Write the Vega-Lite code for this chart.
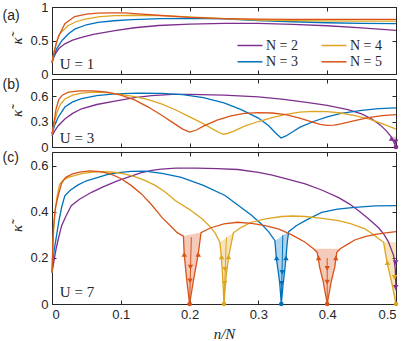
{
"$schema": "https://vega.github.io/schema/vega-lite/v6.json",
"padding": {"left": 1, "top": 0, "right": 0, "bottom": 0},
"bounds": "flush",
"spacing": 5,
"resolve": {"scale": {"color": "independent"}},
"config": {
  "view": {"stroke": "#262626", "strokeWidth": 1},
  "axis": {"grid": false, "domain": false, "tickColor": "#262626", "tickSize": -4, "tickWidth": 1, "labelFont": "Liberation Sans", "labelFontSize": 13, "labelColor": "#262626", "labelPadding": 8, "titleFont": "Liberation Serif", "titleFontSize": 15, "titleFontStyle": "italic", "titleFontWeight": "normal", "titleColor": "#262626"},
  "text": {"color": "#262626"},
  "range": {"category": ["#7E2F8E", "#0072BD", "#DDA520", "#D95319"]}
},
"datasets": {
  "a": [
    {"N":"N = 2","x":0,"y":0.17},{"N":"N = 2","x":0.003,"y":0.26},{"N":"N = 2","x":0.006,"y":0.32},{"N":"N = 2","x":0.01,"y":0.38},{"N":"N = 2","x":0.0187,"y":0.45},{"N":"N = 2","x":0.03,"y":0.505},{"N":"N = 2","x":0.043,"y":0.545},{"N":"N = 2","x":0.06,"y":0.59},{"N":"N = 2","x":0.0915,"y":0.648},{"N":"N = 2","x":0.12,"y":0.69},{"N":"N = 2","x":0.155,"y":0.724},{"N":"N = 2","x":0.2,"y":0.745},{"N":"N = 2","x":0.25,"y":0.755},{"N":"N = 2","x":0.3,"y":0.755},{"N":"N = 2","x":0.35,"y":0.742},{"N":"N = 2","x":0.4,"y":0.72},{"N":"N = 2","x":0.45,"y":0.688},{"N":"N = 2","x":0.5,"y":0.652},
    {"N":"N = 3","x":0,"y":0.17},{"N":"N = 3","x":0.003,"y":0.28},{"N":"N = 3","x":0.007,"y":0.38},{"N":"N = 3","x":0.0146,"y":0.5},{"N":"N = 3","x":0.024,"y":0.6},{"N":"N = 3","x":0.033,"y":0.67},{"N":"N = 3","x":0.05,"y":0.735},{"N":"N = 3","x":0.067,"y":0.77},{"N":"N = 3","x":0.09,"y":0.795},{"N":"N = 3","x":0.116,"y":0.812},{"N":"N = 3","x":0.159,"y":0.825},{"N":"N = 3","x":0.2,"y":0.83},{"N":"N = 3","x":0.25,"y":0.822},{"N":"N = 3","x":0.3,"y":0.798},{"N":"N = 3","x":0.35,"y":0.78},{"N":"N = 3","x":0.4,"y":0.765},{"N":"N = 3","x":0.45,"y":0.756},{"N":"N = 3","x":0.5,"y":0.752},
    {"N":"N = 4","x":0,"y":0.17},{"N":"N = 4","x":0.003,"y":0.33},{"N":"N = 4","x":0.006,"y":0.45},{"N":"N = 4","x":0.011,"y":0.6},{"N":"N = 4","x":0.0236,"y":0.724},{"N":"N = 4","x":0.035,"y":0.78},{"N":"N = 4","x":0.048,"y":0.82},{"N":"N = 4","x":0.07,"y":0.855},{"N":"N = 4","x":0.0915,"y":0.872},{"N":"N = 4","x":0.12,"y":0.877},{"N":"N = 4","x":0.159,"y":0.872},{"N":"N = 4","x":0.2,"y":0.852},{"N":"N = 4","x":0.25,"y":0.826},{"N":"N = 4","x":0.3,"y":0.806},{"N":"N = 4","x":0.35,"y":0.796},{"N":"N = 4","x":0.4,"y":0.792},{"N":"N = 4","x":0.45,"y":0.79},{"N":"N = 4","x":0.5,"y":0.79},
    {"N":"N = 5","x":0,"y":0.17},{"N":"N = 5","x":0.003,"y":0.32},{"N":"N = 5","x":0.006,"y":0.45},{"N":"N = 5","x":0.009,"y":0.55},{"N":"N = 5","x":0.0187,"y":0.75},{"N":"N = 5","x":0.033,"y":0.858},{"N":"N = 5","x":0.05,"y":0.895},{"N":"N = 5","x":0.067,"y":0.908},{"N":"N = 5","x":0.085,"y":0.913},{"N":"N = 5","x":0.106,"y":0.912},{"N":"N = 5","x":0.13,"y":0.895},{"N":"N = 5","x":0.159,"y":0.873},{"N":"N = 5","x":0.2,"y":0.845},{"N":"N = 5","x":0.25,"y":0.826},{"N":"N = 5","x":0.3,"y":0.818},{"N":"N = 5","x":0.35,"y":0.815},{"N":"N = 5","x":0.4,"y":0.815},{"N":"N = 5","x":0.45,"y":0.815},{"N":"N = 5","x":0.5,"y":0.815}
  ],
  "b": [
    {"N":"N = 2","x":0,"y":0.13},{"N":"N = 2","x":0.004,"y":0.19},{"N":"N = 2","x":0.009,"y":0.25},{"N":"N = 2","x":0.0187,"y":0.33},{"N":"N = 2","x":0.03,"y":0.395},{"N":"N = 2","x":0.043,"y":0.45},{"N":"N = 2","x":0.065,"y":0.5},{"N":"N = 2","x":0.0915,"y":0.54},{"N":"N = 2","x":0.12,"y":0.58},{"N":"N = 2","x":0.145,"y":0.605},{"N":"N = 2","x":0.175,"y":0.618},{"N":"N = 2","x":0.2,"y":0.62},{"N":"N = 2","x":0.25,"y":0.61},{"N":"N = 2","x":0.3,"y":0.59},{"N":"N = 2","x":0.337,"y":0.56},{"N":"N = 2","x":0.37,"y":0.525},{"N":"N = 2","x":0.4,"y":0.49},{"N":"N = 2","x":0.43,"y":0.44},{"N":"N = 2","x":0.45,"y":0.39},{"N":"N = 2","x":0.465,"y":0.33},{"N":"N = 2","x":0.477,"y":0.26},{"N":"N = 2","x":0.486,"y":0.19},{"N":"N = 2","x":0.493,"y":0.12},{"N":"N = 2","x":0.5,"y":0},
    {"N":"N = 3","x":0,"y":0.15},{"N":"N = 3","x":0.004,"y":0.26},{"N":"N = 3","x":0.009,"y":0.35},{"N":"N = 3","x":0.0187,"y":0.47},{"N":"N = 3","x":0.03,"y":0.53},{"N":"N = 3","x":0.043,"y":0.57},{"N":"N = 3","x":0.065,"y":0.605},{"N":"N = 3","x":0.0915,"y":0.625},{"N":"N = 3","x":0.125,"y":0.633},{"N":"N = 3","x":0.159,"y":0.632},{"N":"N = 3","x":0.19,"y":0.615},{"N":"N = 3","x":0.22,"y":0.58},{"N":"N = 3","x":0.25,"y":0.52},{"N":"N = 3","x":0.275,"y":0.44},{"N":"N = 3","x":0.3,"y":0.34},{"N":"N = 3","x":0.315,"y":0.25},{"N":"N = 3","x":0.325,"y":0.165},{"N":"N = 3","x":0.333,"y":0.105},{"N":"N = 3","x":0.34,"y":0.13},{"N":"N = 3","x":0.35,"y":0.18},{"N":"N = 3","x":0.36,"y":0.23},{"N":"N = 3","x":0.38,"y":0.3},{"N":"N = 3","x":0.4,"y":0.355},{"N":"N = 3","x":0.42,"y":0.395},{"N":"N = 3","x":0.45,"y":0.432},{"N":"N = 3","x":0.475,"y":0.452},{"N":"N = 3","x":0.5,"y":0.46},
    {"N":"N = 4","x":0,"y":0.15},{"N":"N = 4","x":0.003,"y":0.27},{"N":"N = 4","x":0.007,"y":0.4},{"N":"N = 4","x":0.012,"y":0.5},{"N":"N = 4","x":0.0187,"y":0.565},{"N":"N = 4","x":0.03,"y":0.61},{"N":"N = 4","x":0.043,"y":0.635},{"N":"N = 4","x":0.06,"y":0.645},{"N":"N = 4","x":0.08,"y":0.64},{"N":"N = 4","x":0.1,"y":0.62},{"N":"N = 4","x":0.12,"y":0.593},{"N":"N = 4","x":0.14,"y":0.558},{"N":"N = 4","x":0.16,"y":0.505},{"N":"N = 4","x":0.18,"y":0.435},{"N":"N = 4","x":0.2,"y":0.355},{"N":"N = 4","x":0.22,"y":0.275},{"N":"N = 4","x":0.235,"y":0.205},{"N":"N = 4","x":0.245,"y":0.162},{"N":"N = 4","x":0.25,"y":0.15},{"N":"N = 4","x":0.256,"y":0.16},{"N":"N = 4","x":0.265,"y":0.19},{"N":"N = 4","x":0.28,"y":0.245},{"N":"N = 4","x":0.3,"y":0.3},{"N":"N = 4","x":0.32,"y":0.345},{"N":"N = 4","x":0.34,"y":0.385},{"N":"N = 4","x":0.36,"y":0.41},{"N":"N = 4","x":0.38,"y":0.42},{"N":"N = 4","x":0.4,"y":0.415},{"N":"N = 4","x":0.42,"y":0.4},{"N":"N = 4","x":0.44,"y":0.37},{"N":"N = 4","x":0.46,"y":0.33},{"N":"N = 4","x":0.48,"y":0.275},{"N":"N = 4","x":0.5,"y":0.21},
    {"N":"N = 5","x":0,"y":0.15},{"N":"N = 5","x":0.003,"y":0.3},{"N":"N = 5","x":0.006,"y":0.45},{"N":"N = 5","x":0.01,"y":0.56},{"N":"N = 5","x":0.015,"y":0.61},{"N":"N = 5","x":0.024,"y":0.645},{"N":"N = 5","x":0.04,"y":0.66},{"N":"N = 5","x":0.06,"y":0.66},{"N":"N = 5","x":0.08,"y":0.645},{"N":"N = 5","x":0.1,"y":0.61},{"N":"N = 5","x":0.12,"y":0.555},{"N":"N = 5","x":0.14,"y":0.47},{"N":"N = 5","x":0.16,"y":0.37},{"N":"N = 5","x":0.175,"y":0.29},{"N":"N = 5","x":0.19,"y":0.21},{"N":"N = 5","x":0.2,"y":0.175},{"N":"N = 5","x":0.21,"y":0.2},{"N":"N = 5","x":0.22,"y":0.245},{"N":"N = 5","x":0.24,"y":0.315},{"N":"N = 5","x":0.26,"y":0.365},{"N":"N = 5","x":0.28,"y":0.395},{"N":"N = 5","x":0.3,"y":0.405},{"N":"N = 5","x":0.32,"y":0.4},{"N":"N = 5","x":0.34,"y":0.38},{"N":"N = 5","x":0.36,"y":0.34},{"N":"N = 5","x":0.38,"y":0.29},{"N":"N = 5","x":0.39,"y":0.265},{"N":"N = 5","x":0.4,"y":0.255},{"N":"N = 5","x":0.41,"y":0.258},{"N":"N = 5","x":0.42,"y":0.272},{"N":"N = 5","x":0.44,"y":0.31},{"N":"N = 5","x":0.46,"y":0.345},{"N":"N = 5","x":0.48,"y":0.37},{"N":"N = 5","x":0.5,"y":0.38}
  ],
  "c": [
    {"N":"N = 2","x":0,"y":0.137},{"N":"N = 2","x":0.003,"y":0.19},{"N":"N = 2","x":0.006,"y":0.24},{"N":"N = 2","x":0.009,"y":0.28},{"N":"N = 2","x":0.014,"y":0.34},{"N":"N = 2","x":0.02,"y":0.38},{"N":"N = 2","x":0.028,"y":0.427},{"N":"N = 2","x":0.04,"y":0.455},{"N":"N = 2","x":0.0575,"y":0.485},{"N":"N = 2","x":0.075,"y":0.51},{"N":"N = 2","x":0.096,"y":0.536},{"N":"N = 2","x":0.115,"y":0.555},{"N":"N = 2","x":0.13,"y":0.57},{"N":"N = 2","x":0.145,"y":0.58},{"N":"N = 2","x":0.159,"y":0.586},{"N":"N = 2","x":0.18,"y":0.59},{"N":"N = 2","x":0.21,"y":0.59},{"N":"N = 2","x":0.24,"y":0.588},{"N":"N = 2","x":0.27,"y":0.584},{"N":"N = 2","x":0.3,"y":0.572},{"N":"N = 2","x":0.32,"y":0.56},{"N":"N = 2","x":0.345,"y":0.54},{"N":"N = 2","x":0.368,"y":0.522},{"N":"N = 2","x":0.392,"y":0.495},{"N":"N = 2","x":0.4166,"y":0.462},{"N":"N = 2","x":0.432,"y":0.435},{"N":"N = 2","x":0.4457,"y":0.405},{"N":"N = 2","x":0.46,"y":0.37},{"N":"N = 2","x":0.475,"y":0.33},{"N":"N = 2","x":0.483,"y":0.3},{"N":"N = 2","x":0.489,"y":0.27},{"N":"N = 2","x":0.4966,"y":0.21},{"N":"N = 2","x":0.499,"y":0.15},{"N":"N = 2","x":0.5,"y":0.06},
    {"N":"N = 3","x":0,"y":0.137},{"N":"N = 3","x":0.003,"y":0.23},{"N":"N = 3","x":0.0066,"y":0.297},{"N":"N = 3","x":0.01,"y":0.36},{"N":"N = 3","x":0.014,"y":0.42},{"N":"N = 3","x":0.0186,"y":0.47},{"N":"N = 3","x":0.027,"y":0.495},{"N":"N = 3","x":0.038,"y":0.517},{"N":"N = 3","x":0.05,"y":0.535},{"N":"N = 3","x":0.067,"y":0.55},{"N":"N = 3","x":0.08,"y":0.562},{"N":"N = 3","x":0.096,"y":0.57},{"N":"N = 3","x":0.115,"y":0.576},{"N":"N = 3","x":0.135,"y":0.577},{"N":"N = 3","x":0.16,"y":0.567},{"N":"N = 3","x":0.188,"y":0.55},{"N":"N = 3","x":0.22,"y":0.515},{"N":"N = 3","x":0.2515,"y":0.471},{"N":"N = 3","x":0.27,"y":0.43},{"N":"N = 3","x":0.29,"y":0.385},{"N":"N = 3","x":0.305,"y":0.345},{"N":"N = 3","x":0.315,"y":0.313},{"N":"N = 3","x":0.324,"y":0.275},{"N":"N = 3","x":0.326,"y":0.2},{"N":"N = 3","x":0.329,"y":0.137},{"N":"N = 3","x":0.331,"y":0.09},{"N":"N = 3","x":0.3333,"y":0},{"N":"N = 3","x":0.336,"y":0.09},{"N":"N = 3","x":0.338,"y":0.137},{"N":"N = 3","x":0.34,"y":0.2},{"N":"N = 3","x":0.342,"y":0.27},{"N":"N = 3","x":0.344,"y":0.314},{"N":"N = 3","x":0.355,"y":0.34},{"N":"N = 3","x":0.368,"y":0.362},{"N":"N = 3","x":0.392,"y":0.398},{"N":"N = 3","x":0.415,"y":0.412},{"N":"N = 3","x":0.44,"y":0.42},{"N":"N = 3","x":0.47,"y":0.426},{"N":"N = 3","x":0.5,"y":0.427},
    {"N":"N = 4","x":0,"y":0.137},{"N":"N = 4","x":0.002,"y":0.3},{"N":"N = 4","x":0.004,"y":0.384},{"N":"N = 4","x":0.007,"y":0.46},{"N":"N = 4","x":0.011,"y":0.52},{"N":"N = 4","x":0.017,"y":0.54},{"N":"N = 4","x":0.024,"y":0.55},{"N":"N = 4","x":0.035,"y":0.56},{"N":"N = 4","x":0.045,"y":0.567},{"N":"N = 4","x":0.06,"y":0.573},{"N":"N = 4","x":0.075,"y":0.575},{"N":"N = 4","x":0.09,"y":0.572},{"N":"N = 4","x":0.105,"y":0.565},{"N":"N = 4","x":0.12,"y":0.553},{"N":"N = 4","x":0.135,"y":0.537},{"N":"N = 4","x":0.15,"y":0.515},{"N":"N = 4","x":0.165,"y":0.485},{"N":"N = 4","x":0.179,"y":0.449},{"N":"N = 4","x":0.2,"y":0.41},{"N":"N = 4","x":0.218,"y":0.37},{"N":"N = 4","x":0.23,"y":0.335},{"N":"N = 4","x":0.237,"y":0.309},{"N":"N = 4","x":0.244,"y":0.268},{"N":"N = 4","x":0.246,"y":0.21},{"N":"N = 4","x":0.248,"y":0.12},{"N":"N = 4","x":0.25,"y":0},{"N":"N = 4","x":0.253,"y":0.12},{"N":"N = 4","x":0.257,"y":0.21},{"N":"N = 4","x":0.2637,"y":0.309},{"N":"N = 4","x":0.275,"y":0.333},{"N":"N = 4","x":0.29,"y":0.355},{"N":"N = 4","x":0.31,"y":0.37},{"N":"N = 4","x":0.334,"y":0.38},{"N":"N = 4","x":0.35,"y":0.382},{"N":"N = 4","x":0.368,"y":0.38},{"N":"N = 4","x":0.39,"y":0.373},{"N":"N = 4","x":0.4166,"y":0.362},{"N":"N = 4","x":0.435,"y":0.348},{"N":"N = 4","x":0.455,"y":0.326},{"N":"N = 4","x":0.468,"y":0.3},{"N":"N = 4","x":0.475,"y":0.283},{"N":"N = 4","x":0.482,"y":0.268},{"N":"N = 4","x":0.487,"y":0.18},{"N":"N = 4","x":0.494,"y":0.09},{"N":"N = 4","x":0.5,"y":0},
    {"N":"N = 5","x":0,"y":0.137},{"N":"N = 5","x":0.002,"y":0.33},{"N":"N = 5","x":0.005,"y":0.42},{"N":"N = 5","x":0.009,"y":0.47},{"N":"N = 5","x":0.014,"y":0.525},{"N":"N = 5","x":0.02,"y":0.55},{"N":"N = 5","x":0.03,"y":0.565},{"N":"N = 5","x":0.04,"y":0.573},{"N":"N = 5","x":0.055,"y":0.578},{"N":"N = 5","x":0.07,"y":0.575},{"N":"N = 5","x":0.085,"y":0.565},{"N":"N = 5","x":0.1,"y":0.545},{"N":"N = 5","x":0.115,"y":0.515},{"N":"N = 5","x":0.13,"y":0.478},{"N":"N = 5","x":0.145,"y":0.43},{"N":"N = 5","x":0.16,"y":0.375},{"N":"N = 5","x":0.172,"y":0.34},{"N":"N = 5","x":0.182,"y":0.31},{"N":"N = 5","x":0.191,"y":0.295},{"N":"N = 5","x":0.1922,"y":0.215},{"N":"N = 5","x":0.196,"y":0.1},{"N":"N = 5","x":0.2,"y":0},{"N":"N = 5","x":0.2055,"y":0.1},{"N":"N = 5","x":0.2125,"y":0.215},{"N":"N = 5","x":0.2166,"y":0.31},{"N":"N = 5","x":0.23,"y":0.33},{"N":"N = 5","x":0.25,"y":0.348},{"N":"N = 5","x":0.27,"y":0.355},{"N":"N = 5","x":0.29,"y":0.35},{"N":"N = 5","x":0.31,"y":0.34},{"N":"N = 5","x":0.33,"y":0.325},{"N":"N = 5","x":0.35,"y":0.298},{"N":"N = 5","x":0.368,"y":0.268},{"N":"N = 5","x":0.38,"y":0.24},{"N":"N = 5","x":0.3855,"y":0.224},{"N":"N = 5","x":0.389,"y":0.16},{"N":"N = 5","x":0.394,"y":0.1},{"N":"N = 5","x":0.4,"y":0},{"N":"N = 5","x":0.406,"y":0.1},{"N":"N = 5","x":0.411,"y":0.16},{"N":"N = 5","x":0.414,"y":0.224},{"N":"N = 5","x":0.419,"y":0.24},{"N":"N = 5","x":0.43,"y":0.26},{"N":"N = 5","x":0.44,"y":0.278},{"N":"N = 5","x":0.455,"y":0.293},{"N":"N = 5","x":0.47,"y":0.302},{"N":"N = 5","x":0.485,"y":0.309},{"N":"N = 5","x":0.5,"y":0.314}
  ],
  "cf": [
    {"f":1,"N":"N = 5","y":0,"x1":0.2,"x2":0.2},{"f":1,"N":"N = 5","y":0.1,"x1":0.196,"x2":0.2055},{"f":1,"N":"N = 5","y":0.215,"x1":0.1922,"x2":0.2125},{"f":1,"N":"N = 5","y":0.295,"x1":0.191,"x2":0.2155},{"f":1,"N":"N = 5","y":0.31,"x1":0.2166,"x2":0.2166},
    {"f":2,"N":"N = 4","y":0,"x1":0.25,"x2":0.25},{"f":2,"N":"N = 4","y":0.12,"x1":0.248,"x2":0.253},{"f":2,"N":"N = 4","y":0.21,"x1":0.246,"x2":0.257},{"f":2,"N":"N = 4","y":0.268,"x1":0.244,"x2":0.261},{"f":2,"N":"N = 4","y":0.29,"x1":0.2547,"x2":0.2627},{"f":2,"N":"N = 4","y":0.309,"x1":0.2637,"x2":0.2637},
    {"f":3,"N":"N = 3","y":0,"x1":0.3333,"x2":0.3333},{"f":3,"N":"N = 3","y":0.09,"x1":0.331,"x2":0.336},{"f":3,"N":"N = 3","y":0.137,"x1":0.329,"x2":0.338},{"f":3,"N":"N = 3","y":0.2,"x1":0.326,"x2":0.34},{"f":3,"N":"N = 3","y":0.275,"x1":0.324,"x2":0.3425},{"f":3,"N":"N = 3","y":0.314,"x1":0.344,"x2":0.344},
    {"f":4,"N":"N = 5","y":0,"x1":0.4,"x2":0.4},{"f":4,"N":"N = 5","y":0.1,"x1":0.394,"x2":0.406},{"f":4,"N":"N = 5","y":0.16,"x1":0.389,"x2":0.411},{"f":4,"N":"N = 5","y":0.224,"x1":0.3855,"x2":0.414},{"f":4,"N":"N = 5","y":0.24,"x1":0.38,"x2":0.419},
    {"f":5,"N":"N = 4","y":0,"x1":0.5,"x2":0.5},{"f":5,"N":"N = 4","y":0.09,"x1":0.494,"x2":0.5},{"f":5,"N":"N = 4","y":0.18,"x1":0.487,"x2":0.5},{"f":5,"N":"N = 4","y":0.268,"x1":0.482,"x2":0.5}
  ],
  "cr": [
    {"N":"N = 5","x":0.2025,"y":0.29,"xb":0.2,"yb":0},
    {"N":"N = 4","x":0.2535,"y":0.29,"xb":0.25,"yb":0},
    {"N":"N = 3","x":0.3355,"y":0.3,"xb":0.3333,"yb":0},
    {"N":"N = 5","x":0.4,"y":0.2,"xb":0.4,"yb":0}
  ],
  "ca": [
    {"N":"N = 5","x":0.1922,"y":0.215,"d":"u"},{"N":"N = 5","x":0.2125,"y":0.215,"d":"u"},{"N":"N = 5","x":0.2012,"y":0.16,"d":"d"},{"N":"N = 5","x":0.2007,"y":0.1,"d":"d"},
    {"N":"N = 5","x":0.3875,"y":0.2,"d":"u"},{"N":"N = 5","x":0.4125,"y":0.2,"d":"u"},{"N":"N = 5","x":0.4,"y":0.155,"d":"d"},{"N":"N = 5","x":0.4,"y":0.095,"d":"d"},
    {"N":"N = 4","x":0.2465,"y":0.205,"d":"u"},{"N":"N = 4","x":0.2565,"y":0.205,"d":"u"},{"N":"N = 4","x":0.2515,"y":0.15,"d":"d"},{"N":"N = 4","x":0.251,"y":0.09,"d":"d"},
    {"N":"N = 4","x":0.4875,"y":0.18,"d":"u"},{"N":"N = 4","x":0.498,"y":0.116,"d":"d"},
    {"N":"N = 3","x":0.3265,"y":0.2,"d":"u"},{"N":"N = 3","x":0.34,"y":0.2,"d":"u"},{"N":"N = 3","x":0.3345,"y":0.137,"d":"d"},{"N":"N = 3","x":0.334,"y":0.09,"d":"d"},
    {"N":"N = 2","x":0.4995,"y":0.18,"d":"d"},{"N":"N = 2","x":0.4995,"y":0.072,"d":"d"}
  ],
  "cd": [
    {"N":"N = 5","x":0.2,"y":0},{"N":"N = 4","x":0.25,"y":0},{"N":"N = 3","x":0.3333,"y":0},{"N":"N = 5","x":0.4,"y":0},{"N":"N = 4","x":0.5,"y":0}
  ],
  "bf": [
    {"f":1,"N":"N = 2","y":0,"x1":0.5,"x2":0.5},{"f":1,"N":"N = 2","y":0.06,"x1":0.4965,"x2":0.5},{"f":1,"N":"N = 2","y":0.12,"x1":0.493,"x2":0.5}
  ],
  "ba": [
    {"N":"N = 2","x":0.4935,"y":0.1,"d":"u"},{"N":"N = 2","x":0.4995,"y":0.06,"d":"d"}
  ],
  "bd": [
    {"N":"N = 2","x":0.5,"y":0}
  ]
},
"vconcat": [
  {
    "width": 344, "height": 67,
    "resolve": {"axis": {"x": "independent", "y": "independent"}},
    "layer": [
      {
        "data": {"name": "a"},
        "mark": {"type": "line", "strokeWidth": 1.3},
        "encoding": {
          "x": {"field": "x", "type": "quantitative", "scale": {"domain": [0, 0.5], "nice": false, "zero": false}, "axis": {"values": [0, 0.1, 0.2, 0.3, 0.4, 0.5], "labels": false, "title": null}},
          "y": {"field": "y", "type": "quantitative", "scale": {"domain": [0, 1], "nice": false, "zero": false}, "axis": {"values": [0, 0.5, 1], "format": "~g", "title": "κ̃", "titlePadding": 5}},
          "color": {"field": "N", "type": "nominal", "scale": {"domain": ["N = 2", "N = 3", "N = 4", "N = 5"]},
            "legend": {"title": null, "orient": "none", "legendX": 191, "legendY": 31.5, "columns": 2, "symbolType": "M-2.5,0H2.5", "symbolSize": 100, "symbolStrokeWidth": 1.5, "labelFont": "Liberation Serif", "labelFontSize": 14, "labelColor": "#262626", "labelOffset": 9, "columnPadding": 19, "rowPadding": 2.3, "padding": 0}}
        }
      },
      {
        "data": {"name": "a"},
        "mark": {"type": "line", "opacity": 0},
        "encoding": {
          "x": {"field": "x", "type": "quantitative", "scale": {"domain": [0, 0.5], "nice": false, "zero": false}, "axis": {"orient": "top", "values": [0, 0.1, 0.2, 0.3, 0.4, 0.5], "labels": false, "title": null}},
          "y": {"field": "y", "type": "quantitative", "scale": {"domain": [0, 1], "nice": false, "zero": false}, "axis": {"orient": "right", "values": [0, 0.5, 1], "labels": false, "title": null}}
        }
      },
      {
        "data": {"values": [{"x": -0.072, "y": 0.873, "t": "(a)"}]},
        "mark": {"type": "text", "font": "Liberation Sans", "fontSize": 14, "align": "left", "baseline": "middle"},
        "encoding": {
          "x": {"field": "x", "type": "quantitative", "scale": {"domain": [0, 0.5], "nice": false, "zero": false}, "axis": null},
          "y": {"field": "y", "type": "quantitative", "scale": {"domain": [0, 1], "nice": false, "zero": false}, "axis": null},
          "text": {"field": "t"}
        }
      },
      {
        "data": {"values": [{"x": 0.0114, "y": 0.152, "t": "U = 1"}]},
        "mark": {"type": "text", "font": "Liberation Serif", "fontSize": 15, "align": "left", "baseline": "middle"},
        "encoding": {
          "x": {"field": "x", "type": "quantitative", "scale": {"domain": [0, 0.5], "nice": false, "zero": false}, "axis": null},
          "y": {"field": "y", "type": "quantitative", "scale": {"domain": [0, 1], "nice": false, "zero": false}, "axis": null},
          "text": {"field": "t"}
        }
      }
    ]
  },
  {
    "width": 344, "height": 68,
    "resolve": {"axis": {"x": "independent", "y": "independent"}},
    "layer": [
      {
        "data": {"name": "bf"},
        "mark": {"type": "area", "orient": "horizontal", "opacity": 0.3},
        "encoding": {
          "y": {"field": "y", "type": "quantitative", "scale": {"domain": [0, 0.8], "nice": false, "zero": false}, "axis": null},
          "x": {"field": "x1", "type": "quantitative", "scale": {"domain": [0, 0.5], "nice": false, "zero": false}, "axis": null},
          "x2": {"field": "x2"},
          "detail": {"field": "f"},
          "color": {"field": "N", "type": "nominal", "scale": {"domain": ["N = 2", "N = 3", "N = 4", "N = 5"]}, "legend": null}
        }
      },
      {
        "data": {"name": "b"},
        "mark": {"type": "line", "strokeWidth": 1.3},
        "encoding": {
          "x": {"field": "x", "type": "quantitative", "scale": {"domain": [0, 0.5], "nice": false, "zero": false}, "axis": {"values": [0, 0.1, 0.2, 0.3, 0.4, 0.5], "labels": false, "title": null}},
          "y": {"field": "y", "type": "quantitative", "scale": {"domain": [0, 0.8], "nice": false, "zero": false}, "axis": {"values": [0, 0.3, 0.6], "format": "~g", "title": "κ̃", "titlePadding": 5}},
          "color": {"field": "N", "type": "nominal", "scale": {"domain": ["N = 2", "N = 3", "N = 4", "N = 5"]}, "legend": null}
        }
      },
      {
        "data": {"name": "ba"},
        "mark": {"type": "point", "filled": true, "opacity": 1, "size": 30},
        "encoding": {
          "x": {"field": "x", "type": "quantitative", "scale": {"domain": [0, 0.5], "nice": false, "zero": false}, "axis": null},
          "y": {"field": "y", "type": "quantitative", "scale": {"domain": [0, 0.8], "nice": false, "zero": false}, "axis": null},
          "shape": {"field": "d", "type": "nominal", "scale": {"domain": ["u", "d"], "range": ["triangle-up", "triangle-down"]}, "legend": null},
          "color": {"field": "N", "type": "nominal", "scale": {"domain": ["N = 2", "N = 3", "N = 4", "N = 5"]}, "legend": null}
        }
      },
      {
        "data": {"name": "bd"},
        "mark": {"type": "circle", "opacity": 1, "size": 22},
        "encoding": {
          "x": {"field": "x", "type": "quantitative", "scale": {"domain": [0, 0.5], "nice": false, "zero": false}, "axis": null},
          "y": {"field": "y", "type": "quantitative", "scale": {"domain": [0, 0.8], "nice": false, "zero": false}, "axis": null},
          "color": {"field": "N", "type": "nominal", "scale": {"domain": ["N = 2", "N = 3", "N = 4", "N = 5"]}, "legend": null}
        }
      },
      {
        "data": {"name": "b"},
        "mark": {"type": "line", "opacity": 0},
        "encoding": {
          "x": {"field": "x", "type": "quantitative", "scale": {"domain": [0, 0.5], "nice": false, "zero": false}, "axis": {"orient": "top", "values": [0, 0.1, 0.2, 0.3, 0.4, 0.5], "labels": false, "title": null}},
          "y": {"field": "y", "type": "quantitative", "scale": {"domain": [0, 0.8], "nice": false, "zero": false}, "axis": {"orient": "right", "values": [0, 0.3, 0.6], "labels": false, "title": null}}
        }
      },
      {
        "data": {"values": [{"x": -0.072, "y": 0.726, "t": "(b)"}]},
        "mark": {"type": "text", "font": "Liberation Sans", "fontSize": 14, "align": "left", "baseline": "middle"},
        "encoding": {
          "x": {"field": "x", "type": "quantitative", "scale": {"domain": [0, 0.5], "nice": false, "zero": false}, "axis": null},
          "y": {"field": "y", "type": "quantitative", "scale": {"domain": [0, 0.8], "nice": false, "zero": false}, "axis": null},
          "text": {"field": "t"}
        }
      },
      {
        "data": {"values": [{"x": 0.0114, "y": 0.11, "t": "U = 3"}]},
        "mark": {"type": "text", "font": "Liberation Serif", "fontSize": 15, "align": "left", "baseline": "middle"},
        "encoding": {
          "x": {"field": "x", "type": "quantitative", "scale": {"domain": [0, 0.5], "nice": false, "zero": false}, "axis": null},
          "y": {"field": "y", "type": "quantitative", "scale": {"domain": [0, 0.8], "nice": false, "zero": false}, "axis": null},
          "text": {"field": "t"}
        }
      }
    ]
  },
  {
    "width": 344, "height": 152,
    "resolve": {"axis": {"x": "independent", "y": "independent"}},
    "layer": [
      {
        "data": {"name": "cf"},
        "mark": {"type": "area", "orient": "horizontal", "opacity": 0.3},
        "encoding": {
          "y": {"field": "y", "type": "quantitative", "scale": {"domain": [0, 0.66], "nice": false, "zero": false}, "axis": null},
          "x": {"field": "x1", "type": "quantitative", "scale": {"domain": [0, 0.5], "nice": false, "zero": false}, "axis": null},
          "x2": {"field": "x2"},
          "detail": {"field": "f"},
          "color": {"field": "N", "type": "nominal", "scale": {"domain": ["N = 2", "N = 3", "N = 4", "N = 5"]}, "legend": null}
        }
      },
      {
        "data": {"name": "cr"},
        "mark": {"type": "rule", "strokeWidth": 1},
        "encoding": {
          "x": {"field": "x", "type": "quantitative", "scale": {"domain": [0, 0.5], "nice": false, "zero": false}, "axis": null},
          "x2": {"field": "xb"},
          "y": {"field": "y", "type": "quantitative", "scale": {"domain": [0, 0.66], "nice": false, "zero": false}, "axis": null},
          "y2": {"field": "yb"},
          "color": {"field": "N", "type": "nominal", "scale": {"domain": ["N = 2", "N = 3", "N = 4", "N = 5"]}, "legend": null}
        }
      },
      {
        "data": {"name": "c"},
        "mark": {"type": "line", "strokeWidth": 1.3},
        "encoding": {
          "x": {"field": "x", "type": "quantitative", "scale": {"domain": [0, 0.5], "nice": false, "zero": false}, "axis": {"values": [0, 0.1, 0.2, 0.3, 0.4, 0.5], "format": "~g", "title": "n/N", "titlePadding": 5}},
          "y": {"field": "y", "type": "quantitative", "scale": {"domain": [0, 0.66], "nice": false, "zero": false}, "axis": {"values": [0, 0.2, 0.4, 0.6], "format": "~g", "title": "κ̃", "titlePadding": 5}},
          "color": {"field": "N", "type": "nominal", "scale": {"domain": ["N = 2", "N = 3", "N = 4", "N = 5"]}, "legend": null}
        }
      },
      {
        "data": {"name": "ca"},
        "mark": {"type": "point", "filled": true, "opacity": 1, "size": 30},
        "encoding": {
          "x": {"field": "x", "type": "quantitative", "scale": {"domain": [0, 0.5], "nice": false, "zero": false}, "axis": null},
          "y": {"field": "y", "type": "quantitative", "scale": {"domain": [0, 0.66], "nice": false, "zero": false}, "axis": null},
          "shape": {"field": "d", "type": "nominal", "scale": {"domain": ["u", "d"], "range": ["triangle-up", "triangle-down"]}, "legend": null},
          "color": {"field": "N", "type": "nominal", "scale": {"domain": ["N = 2", "N = 3", "N = 4", "N = 5"]}, "legend": null}
        }
      },
      {
        "data": {"name": "cd"},
        "mark": {"type": "circle", "opacity": 1, "size": 22},
        "encoding": {
          "x": {"field": "x", "type": "quantitative", "scale": {"domain": [0, 0.5], "nice": false, "zero": false}, "axis": null},
          "y": {"field": "y", "type": "quantitative", "scale": {"domain": [0, 0.66], "nice": false, "zero": false}, "axis": null},
          "color": {"field": "N", "type": "nominal", "scale": {"domain": ["N = 2", "N = 3", "N = 4", "N = 5"]}, "legend": null}
        }
      },
      {
        "data": {"name": "c"},
        "mark": {"type": "line", "opacity": 0},
        "encoding": {
          "x": {"field": "x", "type": "quantitative", "scale": {"domain": [0, 0.5], "nice": false, "zero": false}, "axis": {"orient": "top", "values": [0, 0.1, 0.2, 0.3, 0.4, 0.5], "labels": false, "title": null}},
          "y": {"field": "y", "type": "quantitative", "scale": {"domain": [0, 0.66], "nice": false, "zero": false}, "axis": {"orient": "right", "values": [0, 0.2, 0.4, 0.6], "labels": false, "title": null}}
        }
      },
      {
        "data": {"values": [{"x": -0.072, "y": 0.635, "t": "(c)"}]},
        "mark": {"type": "text", "font": "Liberation Sans", "fontSize": 14, "align": "left", "baseline": "middle"},
        "encoding": {
          "x": {"field": "x", "type": "quantitative", "scale": {"domain": [0, 0.5], "nice": false, "zero": false}, "axis": null},
          "y": {"field": "y", "type": "quantitative", "scale": {"domain": [0, 0.66], "nice": false, "zero": false}, "axis": null},
          "text": {"field": "t"}
        }
      },
      {
        "data": {"values": [{"x": 0.0114, "y": 0.05, "t": "U = 7"}]},
        "mark": {"type": "text", "font": "Liberation Serif", "fontSize": 15, "align": "left", "baseline": "middle"},
        "encoding": {
          "x": {"field": "x", "type": "quantitative", "scale": {"domain": [0, 0.5], "nice": false, "zero": false}, "axis": null},
          "y": {"field": "y", "type": "quantitative", "scale": {"domain": [0, 0.66], "nice": false, "zero": false}, "axis": null},
          "text": {"field": "t"}
        }
      }
    ]
  }
]
}
